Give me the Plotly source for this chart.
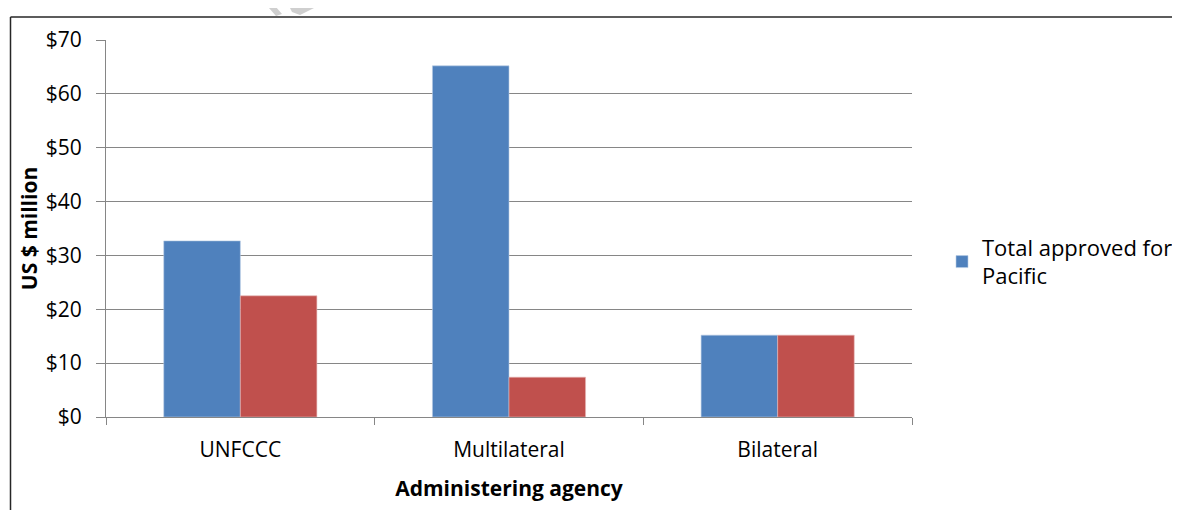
import plotly.graph_objects as go

categories = ["UNFCCC", "Multilateral", "Bilateral"]
approved = [32.7, 65.2, 15.2]
disbursed = [22.5, 7.4, 15.2]
series_names = ["Total approved for<br>Pacific", "Total disbursed"]
y_tick_vals = [0, 10, 20, 30, 40, 50, 60, 70]
y_tick_text = ["$" + str(v) for v in y_tick_vals]

W, H = 1180, 510
OFF = 8  # page body margin
L, R, T, B = 106, 912, 40, 417

def px(x):
    return (x - L) / (R - L)

def py(y):
    return (B - y) / (B - T)

font = "'Open Sans', sans-serif"

fig = go.Figure()
fig.add_trace(go.Bar(x=categories, y=approved, name=series_names[0],
                     marker=dict(color="#4F81BD", line=dict(width=0.6, color="#b8cce4"))))
fig.add_trace(go.Bar(x=categories, y=disbursed, name=series_names[1], showlegend=False,
                     marker=dict(color="#C0504D", line=dict(width=0.6, color="#e6b9b8"))))

shapes = [
    dict(type="line", xref="paper", yref="paper", x0=px(10.5), x1=px(10.5), y0=py(530), y1=py(17),
         line=dict(color="#262626", width=1.5)),
    dict(type="line", xref="paper", yref="paper", x0=px(10.5), x1=px(1200), y0=py(17), y1=py(17),
         line=dict(color="#262626", width=1.5)),
]
def path(points):
    return "M " + " L ".join(f"{px(a)},{py(b)}" for a, b in points) + " Z"
shapes.append(dict(type="path", xref="paper", yref="paper",
                   path=path([(262, 0), (270, 0), (282, 14), (276, 16)]),
                   fillcolor="#cfcfcf", line=dict(width=0)))
shapes.append(dict(type="path", xref="paper", yref="paper",
                   path=path([(286, 0), (330, 0), (318, 6), (300, 15), (292, 12)]),
                   fillcolor="#cfcfcf", line=dict(width=0)))

fig.update_layout(
    width=W, height=H,
    margin=dict(l=L - OFF, r=W - R + OFF, t=T - OFF, b=H - B + OFF, autoexpand=False),
    paper_bgcolor="white", plot_bgcolor="white",
    barmode="group", bargap=0.43, bargroupgap=0,
    font=dict(family=font, size=21, color="#000000"),
    showlegend=True,
    legend=dict(x=px(942), xanchor="left", y=py(262), yanchor="middle",
                font=dict(family=font, size=22, color="#000000"),
                itemwidth=30, bgcolor="rgba(0,0,0,0)"),
    shapes=shapes,
    xaxis=dict(
        showline=True, linecolor="#868686", linewidth=1,
        ticks="outside", tickson="boundaries", ticklen=7, tickcolor="#868686",
        ticklabelstandoff=14,
        title=dict(text="<b>Administering agency</b>", standoff=19,
                   font=dict(family=font, size=21)),
        tickfont=dict(family=font, size=21),
    ),
    yaxis=dict(
        range=[0, 70], tickmode="array", tickvals=y_tick_vals, ticktext=y_tick_text,
        showline=True, linecolor="#868686", linewidth=1,
        ticks="outside", ticklen=9, tickcolor="#868686",
        ticklabelstandoff=10,
        showgrid=True, gridcolor="#868686", gridwidth=1,
        zeroline=False,
        title=dict(text="<b>US $ million</b>", standoff=2,
                   font=dict(family=font, size=21)),
        tickfont=dict(family=font, size=21),
    ),
)

fig.write_html("out.html")
